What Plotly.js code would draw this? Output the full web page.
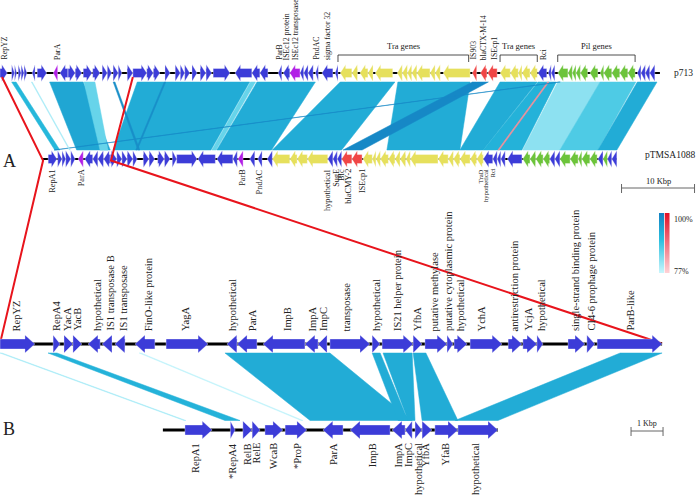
<!DOCTYPE html>
<html><head><meta charset="utf-8">
<script src="https://cdn.plot.ly/plotly-3.0.1.min.js"></script>
<style>html,body{margin:0;padding:0;background:#fff}#chart{width:696px;height:495px}</style>
</head><body><div id="chart"></div>
<script>
// ---------------- DATA (positions in kbp) ----------------
// p713 (panel A, top)
const p713Start = [0.0,1.6,2.0,2.5,2.9,3.3,4.4,5.1,7.3,8.2,9.3,10.3,11.4,12.7,14.0,14.7,15.5,16.2,17.4,18.2,20.1,21.0,22.6,24.0,24.7,25.3,26.3,27.4,28.2,29.2,32.2,34.5,35.6,38.1,38.8,39.7,41.1,41.6,42.2,43.2,44.1,45.9,
  46.6,48.2,49.3,50.4,51.4,54.4,55.1,55.8,56.4,57.1,58.9,59.6,60.7,64.7,65.8,66.8,68.5,69.9,71.0,71.5,72.6,73.7,75.1,75.5,
  76.4,77.8,78.4,78.9,79.5,80.8,82.2,82.7,83.8,84.9,86.0,87.3,87.8,88.4,89.0];
const p713End = [1.0,2.0,2.3,2.9,3.3,3.7,4.8,6.4,7.9,9.3,10.3,11.2,12.6,13.7,14.7,15.3,16.2,16.7,18.2,20.1,21.0,21.9,23.3,24.7,25.3,26.0,27.0,28.2,29.0,31.5,34.5,35.6,36.7,38.6,39.7,41.1,41.6,42.2,42.9,43.6,45.6,46.3,
  48.2,49.0,50.4,51.1,53.8,55.1,55.8,56.4,57.1,58.9,59.6,60.3,64.4,65.3,66.7,68.1,69.9,71.0,71.5,72.6,73.6,74.9,75.5,76.0,
  77.8,78.4,78.9,79.5,80.5,81.9,82.7,83.8,84.9,86.0,87.0,87.8,88.4,89.0,89.7];
const p713Strand = "RRRRRRLRLLRRRRRRRRRRRRRRRRRRRRLLLLLLLLLLLL" + "LLLLLLLLLLLLLLLLLLLLLLL" + "LLLLLLLLLLLLLLL";
const p713Type   = "oooooooopoooooooooooooooooooooooooopoooooooo".slice(0,42) + "ttttttttttttt" + "rrr" + "ttttt" + "ooo" + "ggggggggggg" + "oooo";
const p713Length = 90.4;

// pTMSA1088 (panel A, bottom)
const pTStart = [6.6,7.9,8.5,9.0,9.7,10.7,11.6,12.7,13.4,14.2,15.1,16.0,16.7,17.4,18.2,19.6,20.4,21.6,22.5,23.6,24.2,27.1,29.7,31.9,32.6,34.2,35.3,36.6,
  37.3,39.7,40.7,42.1,44.9,45.6,46.2,46.8,48.2,49.7,51.0,51.5,52.1,53.2,54.1,54.8,55.6,56.2,60.0,61.4,62.1,63.0,64.4,65.3,
  66.2,67.5,68.1,68.6,69.5,71.6,72.6,73.4,74.4,75.3,76.0,76.7,78.1,79.2,79.7,80.8,81.9,82.6,83.2,83.8];
const pTEnd = [7.8,8.5,9.0,9.7,10.3,11.4,12.7,13.4,14.2,15.1,16.0,16.7,17.4,18.2,18.8,20.4,21.2,22.5,23.3,24.2,27.0,29.5,31.9,32.5,33.3,34.9,35.9,37.3,
  39.7,40.7,42.1,44.9,45.6,46.2,46.8,48.2,49.6,51.0,51.5,52.1,53.2,54.1,54.8,55.6,56.2,60.0,61.4,62.1,63.0,64.4,65.3,66.2,
  67.5,68.1,68.6,69.2,71.5,72.6,73.4,74.4,75.3,76.0,76.7,78.1,79.2,79.7,80.8,81.8,82.6,83.2,83.8,84.5];
const pTStrand = "RRRRRLLLLLRRRRRRRRRRRLLLLLLL" + "LLLLLLLLLLLLLLLLLLLLLLL" + "LLLLLLLLLLLLLLLLLLLL";
const pTType   = "ooooopoooooooooooooooooooopooo".slice(0,24) + "poooo".slice(0,4) + "tttt" + "ooo" + "rr" + "ttttttttttttttt" + "ooooo" + "gggg" + "oo" + "ggggg" + "o" + "g" + "oo";
const pTStartLine = 5.9, pTEndLine = 84.5;

// Panel B, top (region of p713)
const b1Start = [0,1.66,2.0,2.28,2.75,3.19,3.59,4.22,5.19,7.09,7.41,8.22,9.53,9.94,10.31,11.63,11.94,12.91,13.28,13.97,14.19,14.69,15.88,16.34,16.78,17.75,18.34,18.66];
const b1End   = [1.09,1.88,2.28,2.56,3.13,3.5,3.91,4.84,6.5,7.41,8.03,9.53,9.94,10.22,11.56,11.88,12.91,13.19,13.97,14.16,14.6,15.69,16.31,16.78,16.97,18.28,18.59,20.69];
const b1Strand = "RRRRLLLLRLLLLLRRRRRRRRRRRRRR";
const b1Labels = ['RepYZ','RepA4','YacA','YacB','hypothetical','IS1 transposase B','IS1 transposase','FinO-like protein','YagA','hypothetical','ParA','ImpB','ImpA','ImpC','transposase','hypothetical','IS21 helper protein','YfbA','putative methylase','putative cytoplasmic protein','hypothetical','YchA','antirestriction protein','YcjA','hypothetical','single-strand binding protein','CI4-6 prophage protein','ParB-like'];
const b1LabelPos = [0.53,1.75,2.09,2.41,3.03,3.44,3.84,4.63,5.78,7.25,7.88,8.97,9.78,10.09,10.84,11.75,12.41,13.03,13.59,14.0,14.38,15.06,16.09,16.5,16.91,17.97,18.47,19.69];
const b1Length = 20.69;

// Panel B, bottom (region of pTMSA1088)
const b2Start = [5.78,7.2,7.59,7.88,8.28,8.91,10.09,10.94,12.25,12.66,12.97,13.19,13.59,14.31];
const b2End   = [6.63,7.35,7.88,8.13,8.84,9.59,10.72,12.19,12.66,12.88,13.19,13.5,14.31,15.56];
const b2Strand = "RRRRRRLLLLRRRR";
const b2Labels = ['RepA1','*RepA4','RelB','RelE','WcaB','*ProP','ParA','ImpB','ImpA','ImpC','hypothetical','YfbA','YfaB','hypothetical'];
const b2LabelPos = [6.09,7.25,7.72,8.0,8.53,9.28,10.41,11.63,12.44,12.75,13.06,13.28,13.91,14.84];
const b2StartLine = 5.09, b2EndLine = 15.56;

// Panel A labels
const p713Labels = ['RepYZ','ParA','ParB','ISEc12 protein','ISEc12 transposase','PndAC','sigma factor 32','IS903','blaCTX-M-14','ISEcp1','Rci'];
const p713LabelPos = [0.55,7.8,38.2,39.3,40.5,43.3,44.9,64.8,66.3,67.7,74.4];
const pTLabels = ['RepA1','ParA','ParB','PndAC','hypothetical','SugE','Blc','blaCMY-2','ISEcp1'];
const pTLabelPos = [7.1,11.2,33.2,35.6,44.8,46.0,46.7,47.7,49.6];
const pTSmallLabels = ['TraD','hypothetical','Rci'];
const pTSmallLabelPos = [65.8,66.5,67.4];
const groupNames = ['Tra genes','Tra genes','Pil genes'];
const groupStart = [46.3,68.5,76.4];
const groupEnd = [64.2,73.6,87.0];

// Homology bands, panel A (p713 -> pTMSA1088), kbp; identity %; inverted flag
const bandATop1 = [1.6,6.8,11.5,18.8,34.3,35.2,46.6,54.5,64.7,68.5,73.7,75.0,76.4,82.2,87.3,76.6,4.3,15.5,22.5];
const bandATop2 = [2.2,11.4,13.0,34.2,35.0,43.2,54.1,64.4,66.9,73.6,76.2,75.2,82.2,87.1,90.0,76.75,4.42,15.75,22.7];
const bandABot1 = [7.5,10.5,13.7,15.5,29.0,29.7,37.3,53.0,47.0,63.0,66.2,68.2,71.6,76.7,81.9,7.4,9.5,18.9,18.6];
const bandABot2 = [8.2,15.1,14.8,28.9,29.6,37.2,46.8,63.0,49.6,66.2,71.5,68.4,76.7,81.9,84.5,7.55,9.62,19.15,18.8];
const bandAId   = [91,94,85,93,85,93,93,93,99,93,92,85,82,87,93,99,80,98,98];
const bandAInv  = [0,0,0,0,0,0,0,0,0,0,0,1,0,0,0,0,0,0,0];
// Homology bands, panel B
const bandBTop1 = [0.0,1.5,4.35,7.03,11.63,11.97,12.91,19.38];
const bandBTop2 = [0.06,1.78,4.41,10.31,11.88,12.88,13.31,20.69];
const bandBBot1 = [5.75,7.03,9.41,9.69,12.44,12.75,13.19,14.22];
const bandBBot2 = [5.81,7.5,9.47,12.88,12.75,12.97,14.31,15.56];
const bandBId   = [80,92,78,93,93,93,93,93];
const bandBInv  = [0,0,0,0,0,0,0,0];

// zoom region (red lines): p713 kbp, pTMSA1088 kbp, panel-B kbp
const zoomTop = [0.27,18.2];
const zoomMid = [5.9,15.2];
const zoomB = [0,20.69];

const legendIds = [77,100];
const scaleA = 10, scaleB = 1;

// ---------------- LAYOUT CONSTANTS ----------------
const W=696, H=495;
const AX = [0, W/7.3];   // panel A kbp range
const BX = [0, W/32];    // panel B kbp range
const yA1=73, yA2=159, yB1=344, yB2=430;
const GENE_COL = {o:'#3c3cd8', p:'#b21fe6', t:'#e6e05c', r:'#f04646', g:'#6cc43a'};
const SERIF = 'Liberation Serif, Times New Roman, serif';
const BLUE_STOPS = [[77,[204,247,253]],[90,[40,190,222]],[100,[20,130,195]]];
const RED_STOPS = [[77,[255,212,216]],[100,[226,18,40]]];
function interp(stops, v){
  for(let i=0;i<stops.length-1;i++){
    const a=stops[i][0], ca=stops[i][1], b=stops[i+1][0], cb=stops[i+1][1];
    if(v<=b || i===stops.length-2){
      const t=Math.max(0,Math.min(1,(v-a)/(b-a)));
      return 'rgb('+ca.map((c,k)=>Math.round(c+(cb[k]-c)*t)).join(',')+')';
    }
  }
}
function idColor(id, inv){ return interp(inv?RED_STOPS:BLUE_STOPS, id); }

const traces = [];
function bands(t1,t2,b1,b2,ids,invs,yTop,yBot,xa){
  for(let i=0;i<t1.length;i++){
    const c=idColor(ids[i],invs[i]);
    traces.push({type:'scatter',mode:'lines',xaxis:xa,yaxis:'y',
      x:[t1[i],t2[i],b2[i],b1[i],t1[i]], y:[yTop,yTop,yBot,yBot,yTop],
      fill:'toself',fillcolor:c,line:{color:c,width:0.5},hoverinfo:'skip'});
  }
}
bands(bandATop1,bandATop2,bandABot1,bandABot2,bandAId,bandAInv,82,150,'x');
bands(bandBTop1,bandBTop2,bandBBot1,bandBBot2,bandBId,bandBInv,353,420.5,'x2');

function backbone(x0,x1,y,xa,w){
  traces.push({type:'scatter',mode:'lines',xaxis:xa,yaxis:'y',x:[x0,x1],y:[y,y],line:{color:'#000',width:w},hoverinfo:'skip'});
}
backbone(0,p713Length,yA1,'x',2.2);
backbone(pTStartLine,pTEndLine,yA2,'x',2.2);
backbone(0,b1Length,yB1,'x2',3);
backbone(b2StartLine,b2EndLine,yB2,'x2',3);

function arrows(st,en,sd,tp,want,y,hb,hh,hl,xa){
  const xs=[],ys=[];
  for(let i=0;i<st.length;i++){
    if(tp && tp[i]!==want) continue;
    const s=st[i], e=en[i], h=Math.min(hl,(e-s));
    if(sd[i]==='R'){ const b=e-h;
      xs.push(s,b,b,e,b,b,s,s,null); ys.push(y-hb,y-hb,y-hh,y,y+hh,y+hb,y+hb,y-hb,null);
    } else { const b=s+h;
      xs.push(e,b,b,s,b,b,e,e,null); ys.push(y-hb,y-hb,y-hh,y,y+hh,y+hb,y+hb,y-hb,null);
    }
  }
  traces.push({type:'scatter',mode:'lines',xaxis:xa,yaxis:'y',x:xs,y:ys,fill:'toself',
    fillcolor:GENE_COL[want],line:{color:'rgba(255,255,255,0.7)',width:0.5},hoverinfo:'skip'});
}
for(const k of Object.keys(GENE_COL)){
  arrows(p713Start,p713End,p713Strand,p713Type,k,yA1,4.5,8.5,0.75,'x');
  arrows(pTStart,pTEnd,pTStrand,pTType,k,yA2,4.5,8.5,0.75,'x');
}
arrows(b1Start,b1End,b1Strand,null,'o',yB1,5,9,0.31,'x2');
arrows(b2Start,b2End,b2Strand,null,'o',yB2,5,9,0.31,'x2');

// brackets
for(let i=0;i<groupStart.length;i++){
  traces.push({type:'scatter',mode:'lines',xaxis:'x',yaxis:'y',x:[groupStart[i],groupStart[i],groupEnd[i],groupEnd[i]],y:[62,55,55,62],
    line:{color:'#222',width:0.8},hoverinfo:'skip'});
}
// scale bars
const sA0 = AX[1]-0.2-scaleA, sB0 = 19.72;
traces.push({type:'scatter',mode:'lines',xaxis:'x',yaxis:'y',x:[sA0,sA0,null,sA0,sA0+scaleA,null,sA0+scaleA,sA0+scaleA],y:[184,193,null,188,188,null,184,193],line:{color:'#666',width:1},hoverinfo:'skip'});
traces.push({type:'scatter',mode:'lines',xaxis:'x2',yaxis:'y',x:[sB0,sB0,null,sB0,sB0+scaleB,null,sB0+scaleB,sB0+scaleB],y:[427,436,null,431,431,null,427,436],line:{color:'#666',width:1},hoverinfo:'skip'});

// red zoom lines (panel B kbp converted onto panel A axis)
const B2A = AX[1]/BX[1];
for(let i=0;i<2;i++){
  traces.push({type:'scatter',mode:'lines',xaxis:'x',yaxis:'y',x:[zoomTop[i],zoomMid[i],zoomB[i]*B2A],y:[77,160.5,343.5],
    line:{color:'#e8141c',width:2},hoverinfo:'skip'});
}

// identity legend
const blueScale = BLUE_STOPS.map(s=>[(s[0]-77)/23, 'rgb('+s[1].join(',')+')']);
const redScale = RED_STOPS.map(s=>[(s[0]-77)/23, 'rgb('+s[1].join(',')+')']);
traces.push({type:'heatmap',xaxis:'x3',yaxis:'y3',x:[0,1],y:legendIds,z:[[legendIds[0],legendIds[0]],[legendIds[1],legendIds[1]]],
  zmin:77,zmax:100,colorscale:blueScale,zsmooth:'best',showscale:false,hoverinfo:'skip'});
traces.push({type:'heatmap',xaxis:'x4',yaxis:'y3',x:[0,1],y:legendIds,z:[[legendIds[0],legendIds[0]],[legendIds[1],legendIds[1]]],
  zmin:77,zmax:100,colorscale:redScale,zsmooth:'best',showscale:false,hoverinfo:'skip'});

// annotations
const ann = [];
function labels(names,pos,xa,y,anchor,size){
  names.forEach((n,i)=>ann.push({text:n,x:pos[i],y:y,xref:xa,yref:'y',showarrow:false,textangle:-90,
    xanchor:'center',yanchor:anchor,font:{family:SERIF,size:size,color:'#222'}}));
}
labels(p713Labels,p713LabelPos,'x',62,'bottom',7.8);
labels(pTLabels,pTLabelPos,'x',167,'top',8.3);
labels(pTSmallLabels,pTSmallLabelPos,'x',167,'top',6.6);
labels(b1Labels,b1LabelPos,'x2',333,'bottom',10.5);
labels(b2Labels,b2LabelPos,'x2',441,'top',10.5);
groupNames.forEach((n,i)=>ann.push({text:n,x:(groupStart[i]+groupEnd[i])/2,y:46,xref:'x',yref:'y',showarrow:false,
  font:{family:SERIF,size:8.5,color:'#222'}}));
function txt(t,x,y,xref,xanchor,size){ann.push({text:t,x:x,y:y,xref:xref,yref:'y',showarrow:false,xanchor:xanchor,yanchor:'middle',font:{family:SERIF,size:size,color:'#222'}});}
txt('p713',672/W,yA1,'paper','left',9.5);
txt('pTMSA1088',643/W,155,'paper','left',9.5);
txt('10 Kbp',sA0+scaleA/2,181,'x','center',8.5);
txt('1 Kbp',sB0+scaleB/2,423,'x2','center',8);
txt('100%',672/W,219,'paper','left',8);
txt('77%',672/W,271,'paper','left',8);
txt('A',1/W,161,'paper','left',18);
txt('B',1/W,429,'paper','left',18);

const layout = {
  width:W,height:H,margin:{l:0,r:0,t:0,b:0},paper_bgcolor:'#fff',plot_bgcolor:'rgba(0,0,0,0)',showlegend:false,
  xaxis:{range:AX,domain:[0,1],visible:false,fixedrange:true},
  xaxis2:{range:BX,domain:[0,1],overlaying:'x',anchor:'y',visible:false,fixedrange:true},
  yaxis:{range:[H,0],domain:[0,1],visible:false,fixedrange:true},
  xaxis3:{range:[0,1],domain:[659/W,664.5/W],anchor:'y3',visible:false},
  xaxis4:{range:[0,1],domain:[664.5/W,670/W],anchor:'y3',visible:false},
  yaxis3:{range:[77,100],domain:[1-273/H,1-213/H],anchor:'x3',visible:false},
  annotations:ann
};
Plotly.newPlot('chart',traces,layout,{staticPlot:true,displayModeBar:false});
</script></body></html>
